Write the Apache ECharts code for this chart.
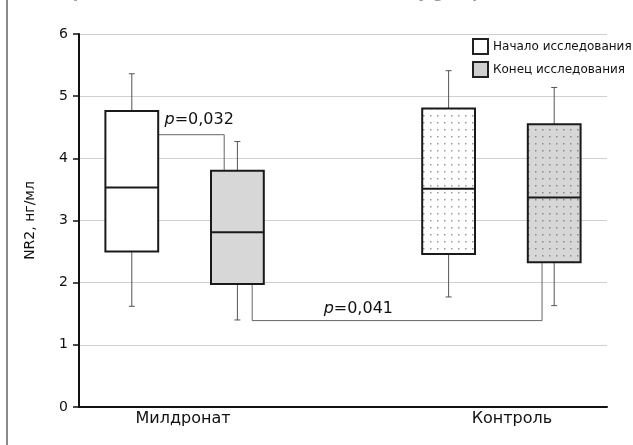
<!DOCTYPE html>
<html>
<head>
<meta charset="utf-8">
<script src="https://cdn.jsdelivr.net/npm/echarts@6/dist/echarts.min.js"></script>
<style>
  html, body { margin: 0; padding: 0; background: #fff; }
  #main { width: 633px; height: 445px; }
</style>
</head>
<body>
<div id="main"></div>
<script>
// данные
const categories = ['Милдронат', 'Контроль'];
const seriesNames = ['Начало исследования', 'Конец исследования'];
// [min, Q1, median, Q3, max] по группам
const startValues = [
  [1.62, 2.50, 3.53, 4.76, 5.36],
  [1.77, 2.46, 3.51, 4.80, 5.41]
];
const endValues = [
  [1.40, 1.98, 2.81, 3.80, 4.27],
  [1.63, 2.33, 3.37, 4.55, 5.14]
];
const pLabels = ['0,032', '0,041'];
const brackets = [
  [[1.5, 4.38], [2.75, 4.38], [2.75, 3.81]],
  [[3.28, 1.98], [3.28, 1.39], [8.77, 1.39], [8.77, 2.33]]
];
const pLabelPos = [[1.62, 4.62], [5.29, 1.58]];

// размещение
const boxX = [[1, 7], [3, 9]];
const labelX = [1.97, 8.2];
const dotted = [false, true];
const FONT = 'DejaVu Sans';

function makeDots(bg, dot) {
  const c = document.createElement('canvas');
  c.width = 7; c.height = 7;
  const ctx = c.getContext('2d');
  ctx.fillStyle = bg;
  ctx.fillRect(0, 0, 7, 7);
  ctx.fillStyle = dot;
  ctx.fillRect(3, 3, 1.5, 1.5);
  return c;
}
const fills = [
  { plain: '#ffffff', dots: { image: makeDots('#ffffff', '#9a9a9a'), repeat: 'repeat' } },
  { plain: '#d7d7d7', dots: { image: makeDots('#d7d7d7', '#8a8a8a'), repeat: 'repeat' } }
];

function boxData(values, s) {
  return values.map((v, i) => [boxX[s][i]].concat(v).concat([i]));
}

function renderBox(s) {
  return function (params, api) {
    const x = api.value(0);
    const lo = api.coord([x, api.value(1)]);
    const q1 = api.coord([x, api.value(2)]);
    const md = api.coord([x, api.value(3)]);
    const q3 = api.coord([x, api.value(4)]);
    const hi = api.coord([x, api.value(5)]);
    const idx = api.value(6);
    const w = api.size([1, 0])[0];
    const cx = lo[0];
    const wl = { stroke: '#555', lineWidth: 1 };
    return {
      type: 'group',
      children: [
        { type: 'line', shape: { x1: cx, y1: q3[1], x2: cx, y2: hi[1] }, style: wl },
        { type: 'line', shape: { x1: cx - 3, y1: hi[1], x2: cx + 3, y2: hi[1] }, style: wl },
        { type: 'line', shape: { x1: cx, y1: q1[1], x2: cx, y2: lo[1] }, style: wl },
        { type: 'line', shape: { x1: cx - 3, y1: lo[1], x2: cx + 3, y2: lo[1] }, style: wl },
        {
          type: 'rect',
          shape: { x: cx - w / 2, y: q3[1], width: w, height: q1[1] - q3[1] },
          style: { fill: dotted[idx] ? fills[s].dots : fills[s].plain, stroke: '#1a1a1a', lineWidth: 2 }
        },
        { type: 'line', shape: { x1: cx - w / 2, y1: md[1], x2: cx + w / 2, y2: md[1] }, style: { stroke: '#1a1a1a', lineWidth: 2 } }
      ]
    };
  };
}

const chart = echarts.init(document.getElementById('main'));

const option = {
  animation: false,
  textStyle: { fontFamily: FONT },
  grid: { left: 79, right: 26, top: 34, bottom: 38 },
  legend: {
    orient: 'vertical',
    left: 467,
    top: 33,
    itemWidth: 15,
    itemHeight: 15,
    itemGap: 6,
    icon: 'rect',
    textStyle: { fontSize: 12, color: '#111', fontFamily: FONT },
    data: [
      { name: seriesNames[0], itemStyle: { color: '#fff', borderColor: '#222', borderWidth: 2 } },
      { name: seriesNames[1], itemStyle: { color: '#cfcfcf', borderColor: '#222', borderWidth: 2 } }
    ]
  },
  graphic: [
    { type: 'line', shape: { x1: 7, y1: 0, x2: 7, y2: 445 }, style: { stroke: '#8a8a8a', lineWidth: 2 } },
    {
      type: 'text', left: 36, top: -13,
      style: { text: 'Comparison of NR2 concentration in the study groups', fill: '#999', font: 'bold 15px DejaVu Sans' }
    }
  ],
  xAxis: {
    type: 'value',
    min: 0,
    max: 10,
    splitLine: { show: false },
    axisTick: { show: false },
    axisLine: { lineStyle: { color: '#111', width: 2 } },
    axisLabel: {
      customValues: labelX,
      formatter: (v) => categories[labelX.indexOf(v)] || '',
      fontSize: 16,
      color: '#111',
      margin: 4
    }
  },
  yAxis: {
    type: 'value',
    min: 0,
    max: 6,
    interval: 1,
    name: 'NR2, нг/мл',
    nameLocation: 'middle',
    nameGap: 42,
    nameTextStyle: { fontSize: 14, color: '#111' },
    axisLine: { show: true, lineStyle: { color: '#111', width: 2 } },
    axisTick: { show: true, length: 6, lineStyle: { color: '#111', width: 1.5 } },
    axisLabel: { fontSize: 14, color: '#111', margin: 11 },
    splitLine: { lineStyle: { color: '#cfcfcf', width: 1 } }
  },
  series: [
    {
      name: seriesNames[0],
      type: 'custom',
      renderItem: renderBox(0),
      itemStyle: { color: '#fff', borderColor: '#222' },
      encode: { x: 0, y: [1, 2, 3, 4, 5] },
      data: boxData(startValues, 0),
      z: 3
    },
    {
      name: seriesNames[1],
      type: 'custom',
      renderItem: renderBox(1),
      itemStyle: { color: '#cfcfcf', borderColor: '#222' },
      encode: { x: 0, y: [1, 2, 3, 4, 5] },
      data: boxData(endValues, 1),
      z: 3
    },
    {
      name: 'p',
      type: 'custom',
      silent: true,
      z: 2,
      renderItem: function (params, api) {
        const i = params.dataIndex;
        const pts = brackets[i].map(p => api.coord(p));
        const lp = api.coord(pLabelPos[i]);
        return {
          type: 'group',
          children: [
            { type: 'polyline', shape: { points: pts }, style: { stroke: '#666', lineWidth: 1, fill: null } },
            {
              type: 'text', x: lp[0], y: lp[1],
              style: {
                text: '{i|p}=' + pLabels[i],
                rich: { i: { fontStyle: 'italic', fontSize: 16, fontFamily: FONT, fill: '#111' } },
                fontSize: 16, fontFamily: FONT, fill: '#111',
                align: i === 0 ? 'left' : 'center', verticalAlign: 'middle',
                backgroundColor: i === 1 ? '#fff' : null
              }
            }
          ]
        };
      },
      data: pLabels.map((l, i) => [i])
    }
  ]
};

chart.setOption(option);
</script>
</body>
</html>
